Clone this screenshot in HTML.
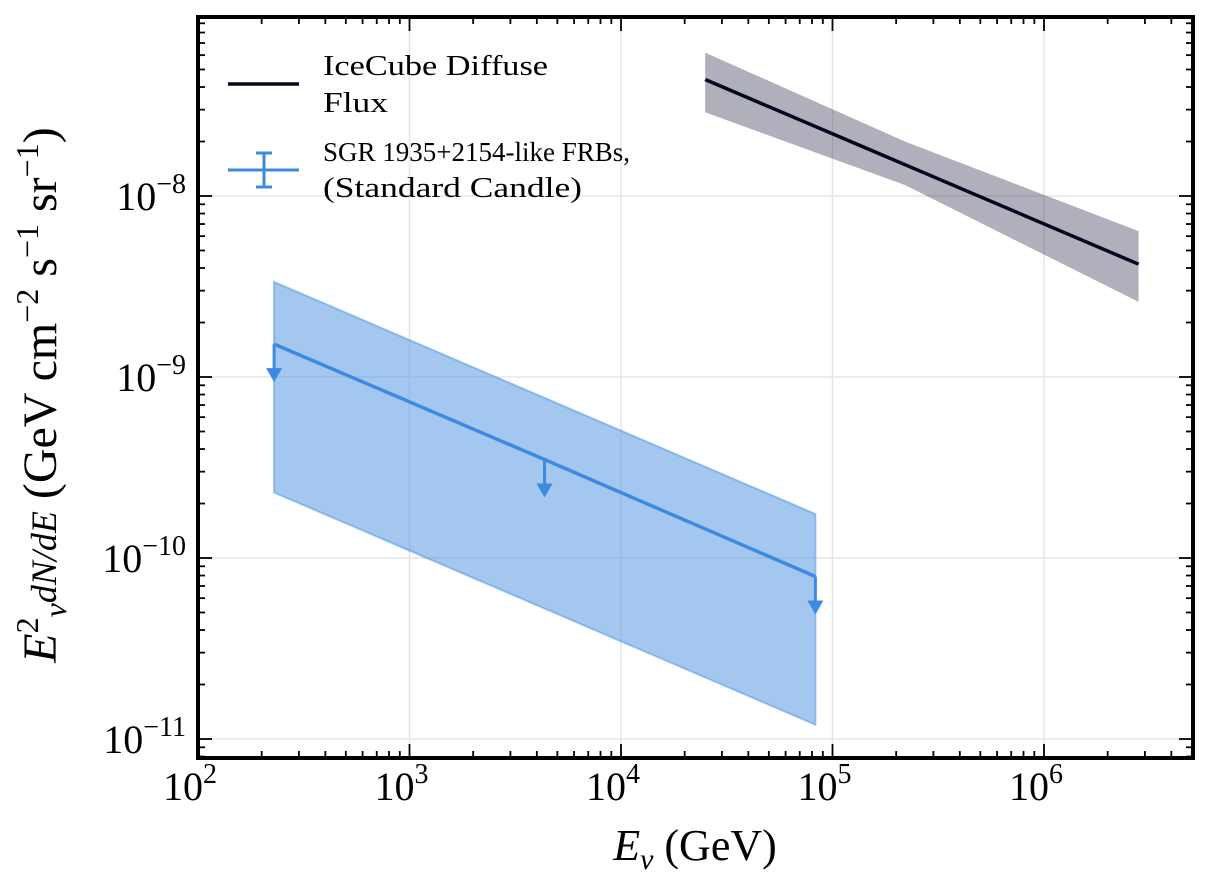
<!DOCTYPE html>
<html><head><meta charset="utf-8"><style>
body{margin:0;background:#fff;}
svg{display:block;font-family:"Liberation Serif",serif;}
</style></head><body>
<svg id="c" width="1212" height="892"></svg>
<script>
const xTicks=[2,3,4,5,6];
const yTicks=[-8,-9,-10,-11];
const iceX=[2.5e4,2.2e5,2.8e6];
const iceY=[4.4e-8,1.55e-8,4.2e-9];
const iceHi=[6.2e-8,2.0e-8,6.4e-9];
const iceLo=[2.9e-8,1.15e-8,2.6e-9];
const frbX=[229,4350,8.3e4];
const frbY=[1.52e-9,3.5e-10,7.9e-11];
const frbHi=[3.35e-9,1.75e-10];
const frbLo=[2.3e-10,1.2e-11];
const frbBandX=[229,8.3e4];
const L=198,R=1193,T=17,B=758;
const X=v=>L+(Math.log10(v)-2)*211.5;
const Y=v=>196-(Math.log10(v)+8)*181;
const NS='http://www.w3.org/2000/svg';
const s=document.getElementById('c');
function el(t,a,p){const e=document.createElementNS(NS,t);for(const k in a)e.setAttribute(k,a[k]);(p||s).appendChild(e);return e;}
xTicks.forEach(d=>{const g=el('line',{x1:X(10**d),x2:X(10**d),y1:T,y2:B,stroke:'#e6e6e6','stroke-width':1.5});

});
yTicks.forEach(d=>{const g=el('line',{x1:L,x2:R,y1:Y(10**d),y2:Y(10**d),stroke:'#e6e6e6','stroke-width':1.5});

});
let pts=iceX.map((x,i)=>X(x)+','+Y(iceHi[i])).concat(iceX.map((x,i)=>X(x)+','+Y(iceLo[i])).reverse());
const ib=el('polygon',{points:pts.join(' '),fill:'#0a0a30','fill-opacity':0.32});


const il=el('line',{x1:X(iceX[0]),y1:Y(iceY[0]),x2:X(iceX[2]),y2:Y(iceY[2]),stroke:'#050520','stroke-width':3.5});


pts=frbBandX.map((x,i)=>X(x)+','+Y(frbHi[i])).concat(frbBandX.map((x,i)=>X(x)+','+Y(frbLo[i])).reverse());
const fb=el('polygon',{points:pts.join(' '),fill:'#4a90e2','fill-opacity':0.5,stroke:'#4a90e2','stroke-opacity':0.5,'stroke-width':2});


const fl=el('polyline',{points:frbX.map((x,i)=>X(x)+','+Y(frbY[i])).join(' '),fill:'none',stroke:'#3d8be0','stroke-width':3.5});


frbX.forEach((x,i)=>{const px=X(x),py=Y(frbY[i]);
const a=el('line',{x1:px,x2:px,y1:py,y2:py+26,stroke:'#3d8be0','stroke-width':3});


const h=el('polygon',{points:`${px-8},${py+24} ${px+8},${py+24} ${px},${py+38}`,fill:'#3d8be0'});

});
for(let d=2;d<=6;d++){for(let m=1;m<10;m++){const v=m*10**d;const px=X(v);if(px>R)break;const len=m==1?14:7;
el('line',{x1:px,x2:px,y1:B,y2:B-len,stroke:'#000','stroke-width':1.8});el('line',{x1:px,x2:px,y1:T,y2:T+len,stroke:'#000','stroke-width':1.8});}}
for(let d=-12;d<=-8;d++){for(let m=1;m<10;m++){const v=m*10**d;const py=Y(v);if(py<T||py>B)continue;const len=m==1?14:7;
el('line',{x1:L,x2:L+len,y1:py,y2:py,stroke:'#000','stroke-width':1.8});el('line',{x1:R,x2:R-len,y1:py,y2:py,stroke:'#000','stroke-width':1.8});}}
const fr=el('rect',{x:L,y:T,width:R-L,height:B-T,fill:'none',stroke:'#000','stroke-width':4});


xTicks.forEach(d=>{const t=el('text',{x:X(10**d)-8,y:800,'font-size':40,'text-anchor':'middle'});t.innerHTML=`10<tspan dy="-17" font-size="28">${d}</tspan>`;

});
yTicks.forEach(d=>{const t=el('text',{x:186,y:Y(10**d)+14,'font-size':40,'text-anchor':'end'});t.innerHTML=`10<tspan dy="-17" font-size="28">−${-d}</tspan>`;

});
</script>
<svg style="position:absolute;left:0;top:0" width="1212" height="892" font-family="Liberation Serif,serif">
<text x="695" y="860" font-size="44" text-anchor="middle"><tspan font-style="italic">E</tspan><tspan font-size="30" dy="9" font-style="italic">ν</tspan><tspan dy="-9"> (GeV)</tspan></text>
<text transform="translate(56,395) rotate(-90)" font-size="48" text-anchor="middle"><tspan font-style="italic">E</tspan><tspan font-size="32" dy="-18">2</tspan><tspan font-size="32" dy="28" font-style="italic">ν</tspan><tspan dy="-10" font-style="italic" font-size="36">dN/dE</tspan><tspan> (GeV cm</tspan><tspan font-size="32" dy="-18">−2</tspan><tspan dy="18"> s</tspan><tspan font-size="32" dy="-18">−1</tspan><tspan dy="18"> sr</tspan><tspan font-size="32" dy="-18">−1</tspan><tspan dy="18">)</tspan></text>
<g>
<line x1="228" x2="299" y1="84" y2="84" stroke="#050520" stroke-width="3.5"/>
<text x="323" y="75" font-size="29" textLength="225" lengthAdjust="spacingAndGlyphs">IceCube Diffuse</text>
<text x="323" y="112" font-size="29" textLength="65" lengthAdjust="spacingAndGlyphs">Flux</text>
<line x1="228" x2="299" y1="170" y2="170" stroke="#3d8be0" stroke-width="3"/>
<line x1="264" x2="264" y1="153" y2="187" stroke="#3d8be0" stroke-width="3"/>
<line x1="256" x2="272" y1="153" y2="153" stroke="#3d8be0" stroke-width="3"/>
<line x1="256" x2="272" y1="187" y2="187" stroke="#3d8be0" stroke-width="3"/>
<text x="323" y="161" font-size="27">SGR 1935+2154-like FRBs,</text>
<text x="323" y="197" font-size="29" textLength="259" lengthAdjust="spacingAndGlyphs">(Standard Candle)</text>
</g>
</svg>
</body></html>
